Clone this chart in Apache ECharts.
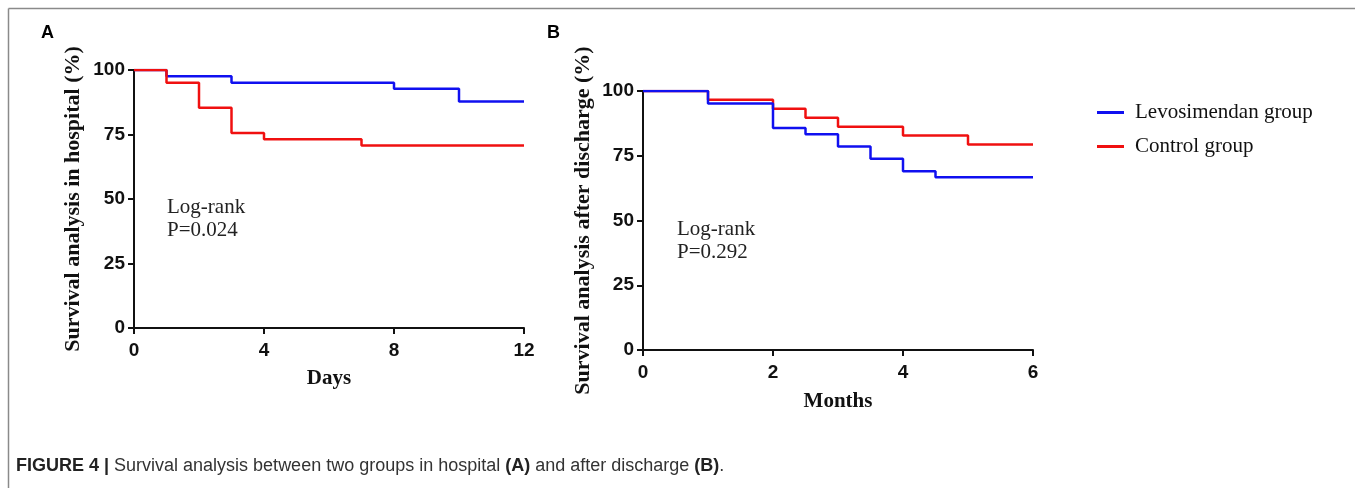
<!DOCTYPE html>
<html>
<head>
<meta charset="utf-8">
<script src="https://cdn.jsdelivr.net/npm/echarts@6/dist/echarts.min.js"></script>
<style>
html,body{margin:0;padding:0;background:#fff;}
#chart{width:1355px;height:488px;}
</style>
</head>
<body>
<div id="chart"></div>
<script>
// ---- Data ----
const seriesNames = ['Levosimendan group', 'Control group'];
// Panel A: in-hospital survival (days, %)
const hospLevo = [[0,100],[1,97.6],[3,95.1],[8,92.7],[10,87.8],[12,87.8]];
const hospCtrl = [[0,100],[1,95.1],[2,85.4],[3,75.6],[4,73.2],[7,70.7],[12,70.7]];
// Panel B: survival after discharge (months, %)
const dischLevo = [[0,100],[1,95.2],[2,85.7],[2.5,83.3],[3,78.6],[3.5,73.8],[4,69.0],[4.5,66.7],[6,66.7]];
const dischCtrl = [[0,100],[1,96.6],[2,93.1],[2.5,89.7],[3,86.2],[4,82.8],[5,79.3],[6,79.3]];
// Axis settings
const daysAxis = {min:0, max:12, interval:4};
const monthsAxis = {min:0, max:6, interval:2};
const pctAxis = {min:0, max:100, interval:25};
const yTitleA = 'Survival analysis in hospital (%)';
const yTitleB = 'Survival analysis after discharge (%)';
const xTitleA = 'Days';
const xTitleB = 'Months';
const noteA = 'Log-rank\nP=0.024';
const noteB = 'Log-rank\nP=0.292';

const BLUE = '#1010f0', RED = '#f01010';
const SERIF = '"Liberation Serif","Times New Roman",serif';
const SANS = '"Liberation Sans",Arial,sans-serif';

function xAx(gi, cfg, name, gap) {
  return {
    type:'value', gridIndex:gi, min:cfg.min, max:cfg.max, interval:cfg.interval,
    name:name, nameLocation:'middle', nameGap:gap,
    nameTextStyle:{fontFamily:SERIF, fontWeight:'bold', fontSize:21, color:'#111'},
    axisLine:{show:true, lineStyle:{color:'#111', width:2}},
    axisTick:{show:true, inside:false, length:6, lineStyle:{color:'#111', width:2}},
    axisLabel:{fontFamily:SANS, fontWeight:'bold', fontSize:19, color:'#111', margin:13},
    splitLine:{show:false}
  };
}
function yAx(gi, name, gap) {
  return {
    type:'value', gridIndex:gi, min:pctAxis.min, max:pctAxis.max, interval:pctAxis.interval,
    name:name, nameLocation:'middle', nameGap:gap, nameRotate:90,
    nameTextStyle:{fontFamily:SERIF, fontWeight:'bold', fontSize:22, color:'#111'},
    axisLine:{show:true, lineStyle:{color:'#111', width:2}},
    axisTick:{show:true, inside:false, length:6, lineStyle:{color:'#111', width:2}},
    axisLabel:{fontFamily:SANS, fontWeight:'bold', fontSize:19, color:'#111', margin:9},
    splitLine:{show:false}
  };
}
function ser(name, data, gi, color) {
  return {
    type:'line', name:name, data:data, step:'end', xAxisIndex:gi, yAxisIndex:gi,
    symbol:'none', lineStyle:{color:color, width:2.5}, itemStyle:{color:color},
    silent:true
  };
}

const chart = echarts.init(document.getElementById('chart'));
chart.setOption({
  animation:false,
  backgroundColor:'#fff',
  grid:[
    {left:134, top:70, width:390, height:258},
    {left:643, top:91, width:390, height:259}
  ],
  xAxis:[ xAx(0, daysAxis, xTitleA, 40), xAx(1, monthsAxis, xTitleB, 41) ],
  yAxis:[ yAx(0, yTitleA, 50), yAx(1, yTitleB, 49) ],
  legend:{
    orient:'vertical', left:1092, top:97, itemWidth:27, itemHeight:3, itemGap:13,
    icon:'rect',
    data:seriesNames,
    textStyle:{fontFamily:SERIF, fontSize:21, color:'#111', padding:[0,0,0,6]}
  },
  series:[
    ser(seriesNames[0], hospLevo, 0, BLUE),
    ser(seriesNames[1], hospCtrl, 0, RED),
    ser(seriesNames[1], dischCtrl, 1, RED),
    ser(seriesNames[0], dischLevo, 1, BLUE)
  ],
  graphic:[
    {type:'line', shape:{x1:8.5, y1:8.5, x2:1355, y2:8.5}, style:{stroke:'#8a8a8a', lineWidth:1.5}},
    {type:'line', shape:{x1:8.5, y1:8.5, x2:8.5, y2:488}, style:{stroke:'#8a8a8a', lineWidth:1.5}},
    {type:'text', left:41, top:24, style:{text:'A', font:'bold 18px "Liberation Sans",Arial,sans-serif', fill:'#000'}},
    {type:'text', left:547, top:24, style:{text:'B', font:'bold 18px "Liberation Sans",Arial,sans-serif', fill:'#000'}},
    {type:'text', left:167, top:196, style:{text:noteA, font:'21px "Liberation Serif","Times New Roman",serif', fill:'#222', lineHeight:23}},
    {type:'text', left:677, top:218, style:{text:noteB, font:'21px "Liberation Serif","Times New Roman",serif', fill:'#222', lineHeight:23}},
    {type:'text', left:16, top:457, style:{
      text:'{b|FIGURE 4 |} Survival analysis between two groups in hospital {b|(A)} and after discharge {b|(B)}.',
      font:'18px "Liberation Sans",Arial,sans-serif', fill:'#333',
      rich:{b:{fontFamily:SANS, fontWeight:'bold', fontSize:18, fill:'#222'}}
    }}
  ]
});
</script>
</body>
</html>
